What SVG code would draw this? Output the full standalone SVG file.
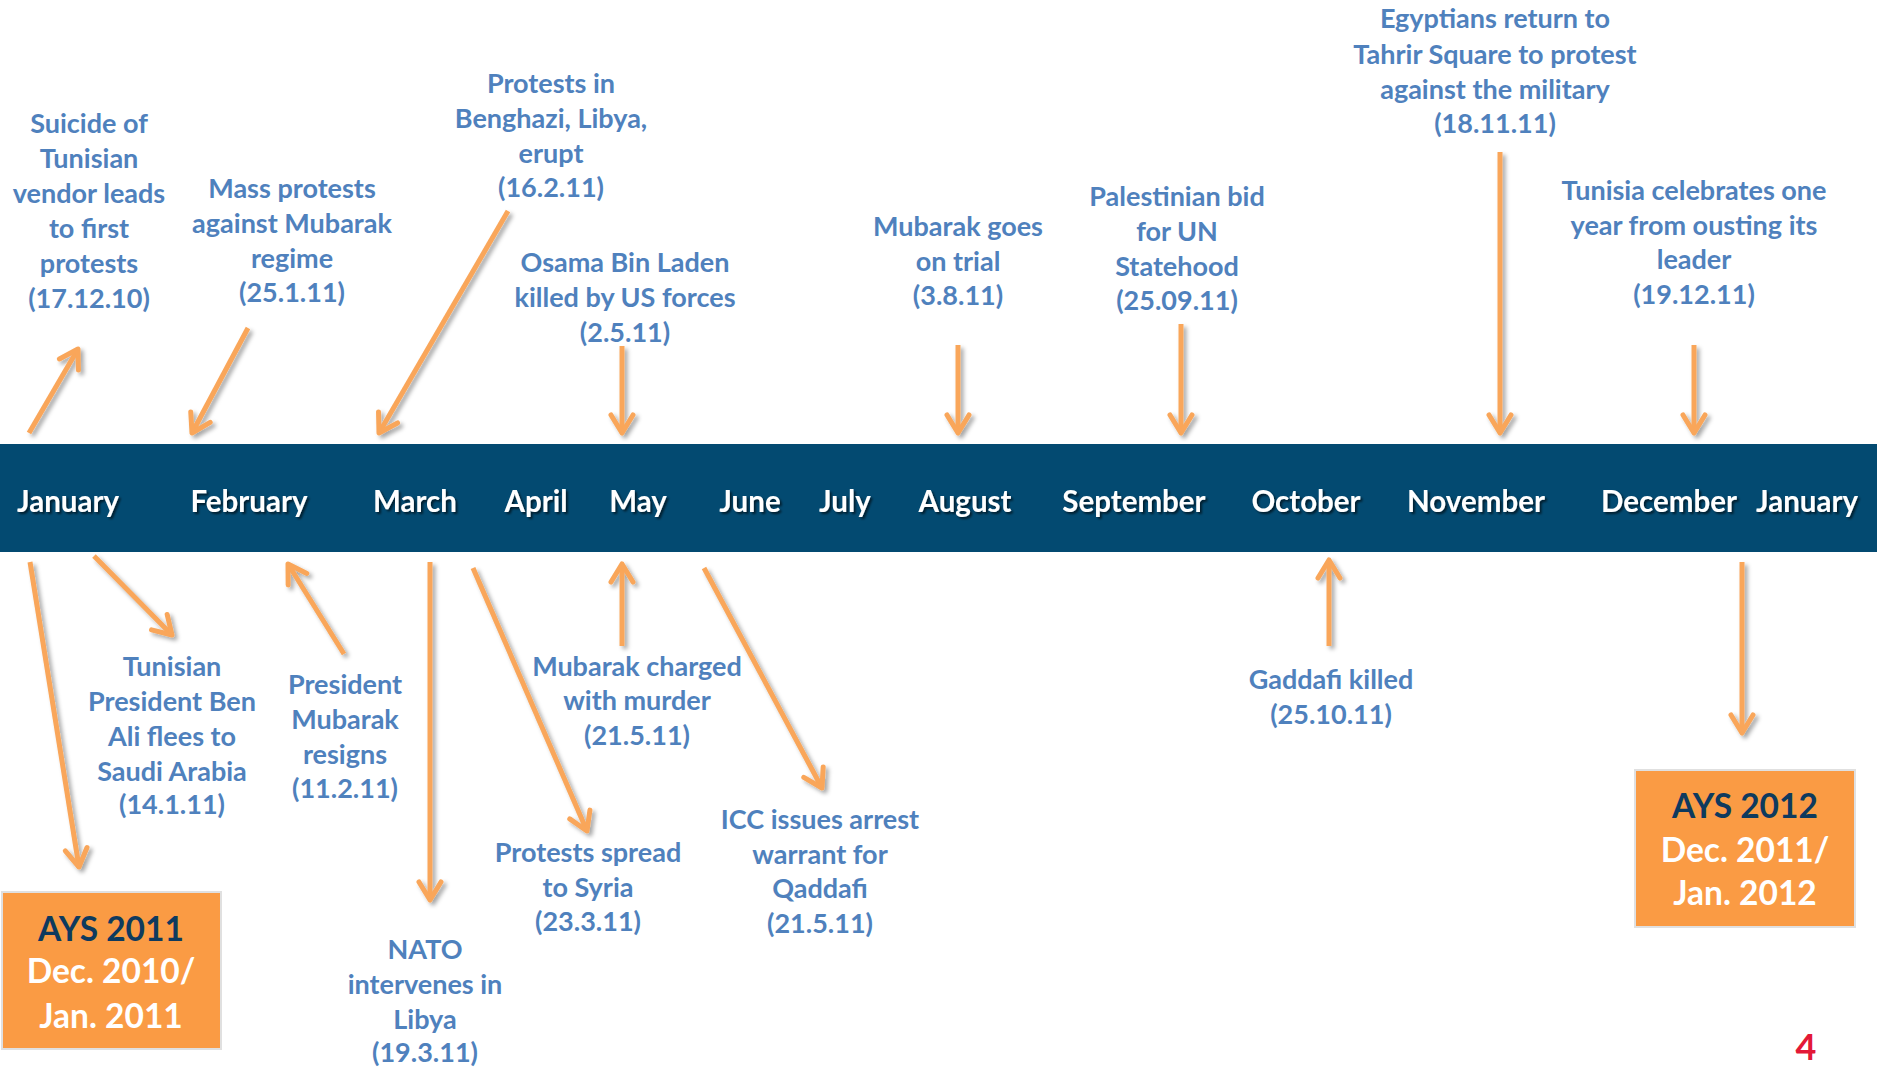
<svg xmlns="http://www.w3.org/2000/svg" width="1877" height="1068" viewBox="0 0 1877 1068">
<defs>
<style>
.ann{font-family:Lato,"Liberation Sans",sans-serif;font-weight:bold;font-size:27px;fill:#4F81BD;text-anchor:middle}
.mon{font-family:Lato,"Liberation Sans",sans-serif;font-weight:bold;font-size:29.5px;fill:#fff;text-anchor:middle}
.box{fill:#FA9B44;stroke:#e0e0e0;stroke-width:2}
.bx{font-family:Lato,"Liberation Sans",sans-serif;font-weight:bold;font-size:33.5px;text-anchor:middle}
.arr{stroke:#F9A65A;stroke-width:5;fill:none;marker-end:url(#head)}
</style>
<marker id="head" viewBox="0 0 30 30" refX="27" refY="15" markerWidth="30" markerHeight="30" markerUnits="userSpaceOnUse" orient="auto">
<path d="M9,4 L27,15 L9,26" fill="none" stroke="#F9A65A" stroke-width="5" stroke-linecap="round" stroke-linejoin="round"/>
</marker>
<filter id="sh" x="-20%" y="-20%" width="140%" height="140%">
<feDropShadow dx="3" dy="3" stdDeviation="2" flood-color="#000" flood-opacity="0.35"/>
</filter>
<filter id="tsh" x="-10%" y="-30%" width="120%" height="160%">
<feDropShadow dx="2" dy="2" stdDeviation="1.2" flood-color="#000" flood-opacity="0.6"/>
</filter>
</defs>
<rect width="1877" height="1068" fill="#fff"/>
<g id="timeline">
<rect x="0" y="444" width="1877" height="108" fill="#034A71"/>
<g filter="url(#tsh)">
<text class="mon" x="68" y="512">January</text>
<text class="mon" x="249" y="512">February</text>
<text class="mon" x="415" y="512">March</text>
<text class="mon" x="536" y="512">April</text>
<text class="mon" x="638" y="512">May</text>
<text class="mon" x="750" y="512">June</text>
<text class="mon" x="845" y="512">July</text>
<text class="mon" x="965" y="512">August</text>
<text class="mon" x="1134" y="512">September</text>
<text class="mon" x="1306" y="512">October</text>
<text class="mon" x="1476" y="512">November</text>
<text class="mon" x="1669" y="512">December</text>
<text class="mon" x="1807" y="512">January</text>
</g>
</g>
<g id="connectors" filter="url(#sh)">
<line class="arr" x1="29" y1="433" x2="78" y2="349"/>
<line class="arr" x1="248" y1="328" x2="192" y2="433"/>
<line class="arr" x1="508" y1="211" x2="379" y2="433"/>
<line class="arr" x1="622" y1="346" x2="622" y2="433"/>
<line class="arr" x1="958" y1="345" x2="958" y2="433"/>
<line class="arr" x1="1181" y1="324" x2="1181" y2="433"/>
<line class="arr" x1="1500" y1="152" x2="1500" y2="433"/>
<line class="arr" x1="1694" y1="345" x2="1694" y2="433"/>
<line class="arr" x1="30" y1="562" x2="79" y2="867"/>
<line class="arr" x1="94" y1="556" x2="172" y2="635"/>
<line class="arr" x1="344" y1="654" x2="288" y2="564"/>
<line class="arr" x1="430" y1="562" x2="430" y2="900"/>
<line class="arr" x1="473" y1="568" x2="587" y2="831"/>
<line class="arr" x1="622" y1="646" x2="622" y2="564"/>
<line class="arr" x1="704" y1="568" x2="822" y2="788"/>
<line class="arr" x1="1329" y1="646" x2="1329" y2="560"/>
<line class="arr" x1="1742" y1="562" x2="1742" y2="733"/>
</g>
<g id="e1"><text class="ann" x="89" y="133">Suicide of</text><text class="ann" x="89" y="168">Tunisian</text><text class="ann" x="89" y="203">vendor leads</text><text class="ann" x="89" y="238">to first</text><text class="ann" x="89" y="273">protests</text><text class="ann" x="89" y="308">(17.12.10)</text></g>
<g id="e2"><text class="ann" x="292" y="198">Mass protests</text><text class="ann" x="292" y="233">against Mubarak</text><text class="ann" x="292" y="268">regime</text><text class="ann" x="292" y="302">(25.1.11)</text></g>
<g id="e3"><text class="ann" x="551" y="93">Protests in</text><text class="ann" x="551" y="128">Benghazi, Libya,</text><text class="ann" x="551" y="163">erupt</text><text class="ann" x="551" y="197">(16.2.11)</text></g>
<g id="e4"><text class="ann" x="625" y="272">Osama Bin Laden</text><text class="ann" x="625" y="307">killed by US forces</text><text class="ann" x="625" y="342">(2.5.11)</text></g>
<g id="e5"><text class="ann" x="958" y="236">Mubarak goes</text><text class="ann" x="958" y="271">on trial</text><text class="ann" x="958" y="305">(3.8.11)</text></g>
<g id="e6"><text class="ann" x="1177" y="206">Palestinian bid</text><text class="ann" x="1177" y="241">for UN</text><text class="ann" x="1177" y="276">Statehood</text><text class="ann" x="1177" y="310">(25.09.11)</text></g>
<g id="e7"><text class="ann" x="1495" y="28">Egyptians return to</text><text class="ann" x="1495" y="64">Tahrir Square to protest</text><text class="ann" x="1495" y="99">against the military</text><text class="ann" x="1495" y="133">(18.11.11)</text></g>
<g id="e8"><text class="ann" x="1694" y="200">Tunisia celebrates one</text><text class="ann" x="1694" y="235">year from ousting its</text><text class="ann" x="1694" y="269">leader</text><text class="ann" x="1694" y="304">(19.12.11)</text></g>
<g id="e9"><text class="ann" x="172" y="676">Tunisian</text><text class="ann" x="172" y="711">President Ben</text><text class="ann" x="172" y="746">Ali flees to</text><text class="ann" x="172" y="781">Saudi Arabia</text><text class="ann" x="172" y="814">(14.1.11)</text></g>
<g id="e10"><text class="ann" x="345" y="694">President</text><text class="ann" x="345" y="729">Mubarak</text><text class="ann" x="345" y="764">resigns</text><text class="ann" x="345" y="798">(11.2.11)</text></g>
<g id="e11"><text class="ann" x="637" y="676">Mubarak charged</text><text class="ann" x="637" y="710">with murder</text><text class="ann" x="637" y="745">(21.5.11)</text></g>
<g id="e12"><text class="ann" x="588" y="862">Protests spread</text><text class="ann" x="588" y="897">to Syria</text><text class="ann" x="588" y="931">(23.3.11)</text></g>
<g id="e13"><text class="ann" x="425" y="959">NATO</text><text class="ann" x="425" y="994">intervenes in</text><text class="ann" x="425" y="1029">Libya</text><text class="ann" x="425" y="1062">(19.3.11)</text></g>
<g id="e14"><text class="ann" x="820" y="829">ICC issues arrest</text><text class="ann" x="820" y="864">warrant for</text><text class="ann" x="820" y="898">Qaddafi</text><text class="ann" x="820" y="933">(21.5.11)</text></g>
<g id="e15"><text class="ann" x="1331" y="689">Gaddafi killed</text><text class="ann" x="1331" y="724">(25.10.11)</text></g>
<g id="ays2011"><rect class="box" x="2" y="892" width="219" height="157"/>
<text class="bx" x="111" y="941" fill="#0E3A5E">AYS  2011</text>
<text class="bx" x="111" y="983" fill="#fff">Dec. 2010/</text>
<text class="bx" x="111" y="1028" fill="#fff">Jan. 2011</text></g>
<g id="ays2012"><rect class="box" x="1635" y="770" width="220" height="157"/>
<text class="bx" x="1745" y="818" fill="#0E3A5E">AYS 2012</text>
<text class="bx" x="1745" y="862" fill="#fff">Dec. 2011/</text>
<text class="bx" x="1745" y="905" fill="#fff">Jan. 2012</text></g>
<g id="page"><text x="1806" y="1060" font-family="Lato,'Liberation Sans',sans-serif" font-weight="bold" font-size="36" fill="#E31937" text-anchor="middle">4</text></g>
</svg>
